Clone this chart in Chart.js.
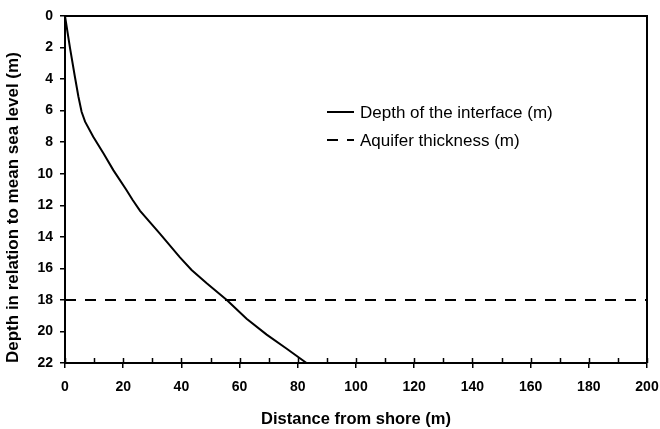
<!DOCTYPE html>
<html>
<head>
<meta charset="utf-8">
<script src="https://cdn.jsdelivr.net/npm/chart.js@4.4.1/dist/chart.umd.min.js"></script>
<style>
  html, body { margin: 0; padding: 0; background: #fff; }
  canvas { display: block; }
</style>
</head>
<body>
<canvas id="chart" width="660" height="429"></canvas>
<script>
(function () {
  'use strict';

  // depth of the freshwater/saltwater interface
  var interfaceDistance = [0, 1.7, 3.4, 4.6, 5.7, 6.9, 9.7, 13.2, 16.6, 21, 23.2, 25.8, 32.6, 39.5, 43.5, 48.7, 55.6, 62.4, 69.3, 76.2, 83];
  var interfaceDepth = [0, 2, 3.85, 5.1, 6.07, 6.7, 7.65, 8.7, 9.77, 11, 11.65, 12.35, 13.8, 15.3, 16.1, 16.95, 18, 19.2, 20.2, 21.1, 22];

  // aquifer thickness is flat at 18 m
  var aquiferDistance = [0, 200];
  var aquiferDepth = [18, 18];

  var seriesLabels = ['Depth of the interface (m)', 'Aquifer thickness (m)'];
  var yTitle = 'Depth in relation to mean sea level (m)';

  var FONT = '"Liberation Sans", Arial, sans-serif';

  function toPoints(xs, ys) {
    return xs.map(function (x, i) {
      return { x: x, y: ys[i] };
    });
  }

  // top/right frame plus the little inside ticks on the x axis
  var framePlugin = {
    id: 'frame',
    afterDraw: function (chart) {
      var ctx = chart.ctx;
      var a = chart.chartArea;
      var xs = chart.scales.x;
      ctx.save();
      ctx.strokeStyle = '#000';
      ctx.lineWidth = 2;
      ctx.beginPath();
      ctx.moveTo(a.left, a.top);
      ctx.lineTo(a.right, a.top);
      ctx.lineTo(a.right, a.bottom);
      ctx.stroke();
      ctx.lineWidth = 1.5;
      for (var v = 0; v <= 200; v += 10) {
        var px = Math.round(xs.getPixelForValue(v)) + 0.5;
        ctx.beginPath();
        ctx.moveTo(px, a.bottom);
        ctx.lineTo(px, a.bottom - 5);
        ctx.stroke();
      }

      // y title starts at the bottom of the plot, like Excel did it
      ctx.translate(13, a.bottom);
      ctx.rotate(-Math.PI / 2);
      ctx.font = 'bold 17px ' + FONT;
      ctx.fillStyle = '#000';
      ctx.textAlign = 'left';
      ctx.textBaseline = 'middle';
      ctx.fillText(yTitle, 0, 0);
      ctx.restore();
    },
  };

  var legendPlugin = {
    id: 'boxLegend',
    afterDraw: function (chart) {
      var ctx = chart.ctx;
      var x0 = 327, x1 = 354, tx = 360;
      var rows = [112, 140];
      ctx.save();
      ctx.font = '17px ' + FONT;
      ctx.textBaseline = 'middle';
      ctx.fillStyle = '#000';
      chart.data.datasets.forEach(function (ds, i) {
        var y = rows[i];
        ctx.strokeStyle = ds.borderColor;
        ctx.lineWidth = ds.borderWidth;
        ctx.setLineDash(ds.borderDash || []);
        ctx.beginPath();
        ctx.moveTo(x0, y);
        ctx.lineTo(x1, y);
        ctx.stroke();
        ctx.fillText(ds.label, tx, y + 1);
      });
      ctx.restore();
    },
  };

  new Chart(document.getElementById('chart'), {
    type: 'line',
    data: {
      datasets: [
        {
          label: seriesLabels[0],
          data: toPoints(interfaceDistance, interfaceDepth),
          borderColor: '#000',
          borderWidth: 2,
          pointRadius: 0,
          tension: 0,
          fill: false,
        },
        {
          label: seriesLabels[1],
          data: toPoints(aquiferDistance, aquiferDepth),
          borderColor: '#000',
          borderWidth: 2,
          borderDash: [11, 9],
          pointRadius: 0,
          tension: 0,
          fill: false,
        },
      ],
    },
    options: {
      responsive: false,
      animation: false,
      layout: { padding: { top: 16, right: 13, left: 0, bottom: 0 } },
      plugins: { legend: { display: false }, tooltip: { enabled: false } },
      scales: {
        x: {
          type: 'linear',
          min: 0,
          max: 200,
          afterFit: function (s) {
            s.height = 66;
            s.paddingLeft = 0;
            s.paddingRight = 0;
          },
          border: { color: '#000', width: 2 },
          grid: {
            drawOnChartArea: false,
            drawTicks: true,
            tickLength: 5,
            color: '#000',
            lineWidth: 1.5,
          },
          ticks: {
            stepSize: 20,
            padding: 11,
            color: '#000',
            maxRotation: 0,
            font: { family: FONT, size: 14, weight: 'bold' },
          },
          title: {
            display: true,
            text: 'Distance from shore (m)',
            color: '#000',
            padding: { top: 0, bottom: 0 },
            font: { family: FONT, size: 16.5, weight: 'bold' },
          },
        },
        y: {
          type: 'linear',
          reverse: true,
          min: 0,
          max: 22,
          afterFit: function (s) {
            s.width = 65;
          },
          border: { color: '#000', width: 2 },
          grid: {
            drawOnChartArea: false,
            drawTicks: true,
            tickLength: 5,
            color: '#000',
            lineWidth: 1.5,
          },
          ticks: {
            stepSize: 2,
            padding: 7,
            color: '#000',
            font: { family: FONT, size: 14, weight: 'bold' },
          },
          title: { display: false },
        },
      },
    },
    plugins: [framePlugin, legendPlugin],
  });
})();
</script>
</body>
</html>
